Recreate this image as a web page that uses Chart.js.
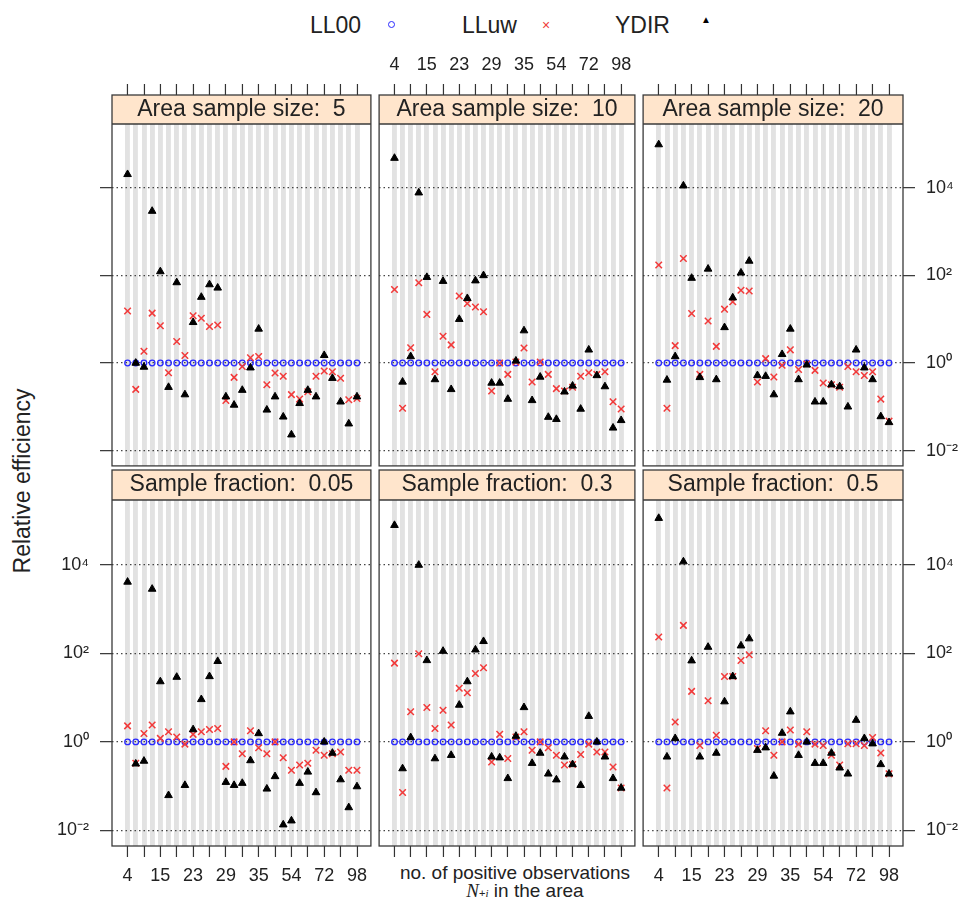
<!DOCTYPE html>
<html lang="en">
<head>
<meta charset="UTF-8">
<title>Relative efficiency by number of positive observations</title>
<script src="https://cdn.jsdelivr.net/npm/chart.js"></script>
<style>
  body { margin: 0; background: #fff; font-family: 'Liberation Sans', Arial, sans-serif; color: #222; }
  #fig { position: relative; width: 966px; height: 901px; overflow: hidden; }
  #fig canvas { position: absolute; }
  .txt { position: absolute; white-space: nowrap; line-height: 1; }
  .key { font-size: 23px; top: 14px; }
  .dot { position: absolute; left: 388px; top: 21px; width: 5px; height: 5px; border: 1.5px solid #2a2aff; border-radius: 50%; }
  #ytitle { left: 22px; top: 481px; font-size: 23px; transform: translate(-50%, -50%) rotate(-90deg); }
  .xtitle { font-size: 19px; transform: translateX(-50%); }
</style>
</head>
<body>
<div id="fig">
  <span class="txt key" style="left:310px">LL00</span>
  <span class="dot"></span>
  <span class="txt key" style="left:462px">LLuw</span>
  <span class="txt" style="left:542px;top:18px;font-size:14px;color:#f03c3c">×</span>
  <span class="txt key" style="left:615px">YDIR</span>
  <span class="txt" style="left:701px;top:15px;font-size:10px;color:#000">▲</span>
  <span class="txt" id="ytitle">Relative efficiency</span>
  <span class="txt xtitle" style="left:515px;top:863px">no. of positive observations</span>
  <span class="txt xtitle" style="left:525px;top:881px"><i style="font-family:'Liberation Serif',serif">N</i><span style="font-size:11px">+<i style="font-family:'Liberation Serif',serif">i</i></span> in the area</span>
</div>

<script>
  // areas sorted by number of positive observations; only every 4th is labelled
  const categories = ['4', '', '', '', '15', '', '', '', '23', '', '', '', '29', '', '', '',
                      '35', '', '', '', '54', '', '', '', '72', '', '', '', '98'];
  const yTicks = [0.01, 1, 100, 10000];

  // LL00 is the reference estimator (relative efficiency 1)
  const ll00 = [1, 1, 1, 1, 1, 1, 1, 1, 1, 1, 1, 1, 1, 1, 1, 1, 1, 1, 1, 1, 1, 1, 1, 1, 1, 1, 1, 1, 1];

  const lluwSize5 = [15.5, 0.25, 1.86, 13.8, 7.1, 0.60, 3.1, 1.48, 12.0, 10.5, 6.8, 7.4, 0.14, 0.47, 0.83,
                     1.32, 1.41, 0.32, 0.59, 0.50, 0.19, 0.15, 0.22, 0.50, 0.66, 0.63, 0.45, 0.145, 0.155];
  const ydirSize5 = [20400, 1.0, 0.81, 2950, 123, 0.28, 69, 0.19, 8.5, 32, 62, 52, 0.17, 0.11, 0.24,
                     0.78, 6.0, 0.085, 0.17, 0.059, 0.023, 0.12, 0.24, 0.17, 1.5, 0.45, 0.13, 0.041, 0.17];

  const lluwSize10 = [48, 0.093, 2.24, 68, 12.9, 0.63, 4.1, 2.6, 34, 23, 19, 14.8, 0.23, 1.0, 0.55,
                      1.05, 2.2, 0.37, 1.05, 0.55, 0.26, 0.23, 0.28, 0.50, 0.60, 0.55, 0.63, 0.13, 0.089];
  const ydirSize10 = [47900, 0.37, 1.41, 7760, 91, 0.42, 74, 0.25, 10, 30, 76, 100, 0.35, 0.35, 0.15,
                      1.12, 5.5, 0.14, 0.48, 0.058, 0.052, 0.22, 0.30, 0.089, 2.0, 0.52, 0.29, 0.033, 0.049];

  const lluwSize20 = [174, 0.093, 2.5, 245, 13.5, 0.55, 9.1, 2.4, 17, 25, 46, 44, 0.37, 1.26, 0.48,
                      0.89, 2.0, 0.71, 0.95, 0.68, 0.35, 0.32, 0.28, 0.83, 0.63, 0.52, 0.63, 0.15, 0.047];
  const ydirSize20 = [97700, 0.41, 1.41, 11200, 87, 0.47, 141, 0.42, 6.5, 31, 115, 214, 0.52, 0.50, 0.19,
                      1.58, 6.0, 0.42, 0.91, 0.13, 0.13, 0.32, 0.29, 0.10, 2.0, 0.78, 0.42, 0.060, 0.044];

  const lluwFrac005 = [2.3, 0.33, 1.55, 2.4, 1.2, 1.7, 1.29, 0.89, 1.48, 1.7, 1.9, 2.0, 0.28, 1.0, 0.54,
                       1.78, 0.74, 0.54, 1.0, 0.44, 0.23, 0.30, 0.33, 0.65, 0.50, 0.54, 0.59, 0.23, 0.23];
  const ydirFrac005 = [4070, 0.32, 0.37, 2820, 23, 0.062, 29, 0.105, 1.9, 9.1, 30, 66, 0.123, 0.105, 0.117,
                       0.38, 1.55, 0.087, 0.166, 0.0135, 0.0166, 0.117, 0.21, 0.072, 1.0, 0.56, 0.141, 0.033, 0.098];

  const lluwFrac03 = [60, 0.072, 4.8, 98, 6.0, 2.0, 5.2, 2.4, 16.2, 12.9, 35, 47, 0.35, 1.48, 0.42,
                      1.29, 1.7, 0.65, 1.0, 0.74, 0.50, 0.30, 0.31, 0.52, 0.89, 0.59, 0.59, 0.27, 0.091];
  const ydirFrac03 = [77600, 0.25, 1.26, 9800, 69, 0.42, 112, 0.50, 6.8, 23, 120, 186, 0.46, 0.44, 0.15,
                      1.35, 6.0, 0.33, 0.56, 0.19, 0.14, 0.46, 0.31, 0.105, 3.8, 1.0, 0.46, 0.15, 0.091];

  const lluwFrac05 = [234, 0.091, 2.8, 427, 13.8, 0.83, 8.5, 1.41, 30, 30, 69, 93, 0.71, 1.78, 0.50,
                      1.0, 1.86, 0.89, 1.7, 0.89, 0.83, 0.50, 0.30, 0.91, 0.91, 0.83, 1.26, 0.56, 0.19];
  const ydirFrac05 = [112000, 0.46, 1.2, 11700, 68, 0.46, 138, 0.56, 8.1, 30, 148, 214, 0.65, 0.74, 0.17,
                      1.58, 4.8, 0.50, 1.0, 0.33, 0.33, 0.56, 0.26, 0.19, 3.1, 1.2, 0.91, 0.31, 0.19];

  const FONT = "'Liberation Sans', Arial, sans-serif";
  Chart.defaults.font.family = FONT;
  Chart.defaults.color = '#222';

  const sup = { '-': '\u207B', '0': '\u2070', '2': '\u00B2', '4': '\u2074' };
  function powLabel(v) {
    const e = String(Math.round(Math.log10(v)));
    return '10' + e.split('').map(ch => sup[ch]).join('');
  }
  const toPoints = vals => vals.map((v, i) => ({ x: i, y: v }));

  // beige strip behind the title and a frame round strip + panel
  const panelFrame = {
    id: 'panelFrame',
    beforeDraw(chart) {
      const a = chart.chartArea, t = chart.titleBlock, ctx = chart.ctx;
      ctx.save();
      ctx.fillStyle = '#ffe5cc';
      ctx.fillRect(a.left, t.top, a.right - a.left, t.bottom - t.top);
      ctx.restore();
    },
    afterDraw(chart) {
      const a = chart.chartArea, t = chart.titleBlock, ctx = chart.ctx;
      ctx.save();
      ctx.strokeStyle = '#3a3a3a';
      ctx.lineWidth = 1.3;
      ctx.strokeRect(a.left, t.top, a.right - a.left, a.bottom - t.top);
      ctx.beginPath();
      ctx.moveTo(a.left, t.bottom);
      ctx.lineTo(a.right, t.bottom);
      ctx.stroke();
      ctx.restore();
    }
  };

  // screen layout of the 3 x 2 lattice
  const panels = [
    { title: 'Area sample size:  5',  lluw: lluwSize5,  ydir: ydirSize5,  left: 0,   top: 40,  w: 377, h: 432,
      pad: { left: 0, right: 2, top: 0, bottom: 2 }, xPos: 'top', xLabels: false, yPos: 'left', yW: 112, yTicks: true, yLabels: false, strip: 27 },
    { title: 'Area sample size:  10', lluw: lluwSize10, ydir: ydirSize10, left: 373, top: 40,  w: 268, h: 432,
      pad: { left: 2, right: 2, top: 0, bottom: 2 }, xPos: 'top', xLabels: true, yPos: 'left', yW: 0, yTicks: false, yLabels: false, strip: 27 },
    { title: 'Area sample size:  20', lluw: lluwSize20, ydir: ydirSize20, left: 637, top: 40,  w: 329, h: 432,
      pad: { left: 2, right: 0, top: 0, bottom: 2 }, xPos: 'top', xLabels: false, yPos: 'right', yW: 63, yTicks: true, yLabels: true, strip: 27 },
    { title: 'Sample fraction:  0.05', lluw: lluwFrac005, ydir: ydirFrac005, left: 0,   top: 468, w: 377, h: 433,
      pad: { left: 0, right: 2, top: 2, bottom: 0 }, xPos: 'bottom', xLabels: true, yPos: 'left', yW: 112, yTicks: true, yLabels: true, strip: 28 },
    { title: 'Sample fraction:  0.3',  lluw: lluwFrac03,  ydir: ydirFrac03,  left: 373, top: 468, w: 268, h: 433,
      pad: { left: 2, right: 2, top: 2, bottom: 0 }, xPos: 'bottom', xLabels: false, yPos: 'left', yW: 0, yTicks: false, yLabels: false, strip: 28 },
    { title: 'Sample fraction:  0.5',  lluw: lluwFrac05,  ydir: ydirFrac05,  left: 637, top: 468, w: 329, h: 433,
      pad: { left: 2, right: 0, top: 2, bottom: 0 }, xPos: 'bottom', xLabels: true, yPos: 'right', yW: 63, yTicks: true, yLabels: true, strip: 28 }
  ];

  const fig = document.getElementById('fig');

  panels.forEach(p => {
    const canvas = document.createElement('canvas');
    canvas.width = p.w;
    canvas.height = p.h;
    canvas.style.left = p.left + 'px';
    canvas.style.top = p.top + 'px';
    fig.appendChild(canvas);

    new Chart(canvas, {
      type: 'scatter',
      data: {
        datasets: [
          { label: 'LL00', data: toPoints(ll00), pointStyle: 'circle', radius: 2.8,
            borderColor: '#2a2aff', backgroundColor: 'rgba(0,0,0,0)', borderWidth: 1.3, order: 3 },
          { label: 'LLuw', data: toPoints(p.lluw), pointStyle: 'crossRot', radius: 4.6,
            borderColor: '#f23a3a', backgroundColor: '#f23a3a', borderWidth: 1.5, order: 2 },
          { label: 'YDIR', data: toPoints(p.ydir), pointStyle: 'triangle', radius: 4.4,
            borderColor: '#000', backgroundColor: '#000', borderWidth: 1, order: 1 }
        ]
      },
      options: {
        responsive: false,
        animation: false,
        events: [],
        layout: { padding: p.pad },
        plugins: {
          legend: { display: false },
          tooltip: { enabled: false },
          title: {
            display: true, text: p.title, fullSize: false, color: '#222',
            font: { size: 23, weight: 'normal', lineHeight: p.strip + 'px' },
            padding: { top: 1, bottom: 1 }
          }
        },
        scales: {
          x: {
            type: 'linear', position: p.xPos, weight: 3000,
            min: -1.9, max: 29.7,
            afterBuildTicks: s => { s.ticks = categories.map((c, i) => ({ value: i })); },
            afterFit: s => { s.height = 55; s.paddingLeft = 0; s.paddingRight = 0; },
            grid: {
              color: '#e2e2e2', lineWidth: 4.9, tickLength: 11, tickWidth: 1.2,
              tickColor: c => c.index % 2 === 0 ? '#333' : 'rgba(0,0,0,0)'
            },
            border: { display: false },
            ticks: {
              autoSkip: false, maxRotation: 0, minRotation: 0, padding: 8, color: '#222',
              font: { size: 18 },
              callback: (v, i) => p.xLabels ? categories[i] : ''
            }
          },
          y: {
            type: 'logarithmic', position: p.yPos,
            min: Math.pow(10, -2.35), max: Math.pow(10, 5.46),
            afterBuildTicks: s => { s.ticks = yTicks.map(v => ({ value: v })); },
            afterFit: s => { s.width = p.yW; s.paddingTop = 0; s.paddingBottom = 0; },
            grid: {
              color: '#444', lineWidth: 1.3, drawTicks: p.yTicks, tickLength: 12,
              tickWidth: 1.2, tickColor: '#333', tickBorderDash: []
            },
            border: { display: false, dash: [1.5, 3] },
            ticks: {
              padding: 11, color: '#222', font: { size: 18 },
              callback: v => p.yLabels ? powLabel(v) : ''
            }
          }
        }
      },
      plugins: [panelFrame]
    });
  });
</script>
</body>
</html>
